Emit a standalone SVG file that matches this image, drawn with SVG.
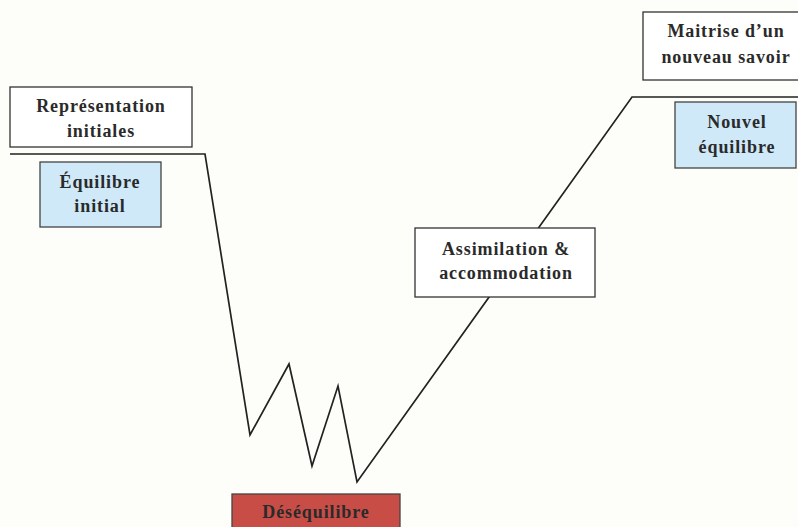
<svg xmlns="http://www.w3.org/2000/svg" width="798" height="527" viewBox="0 0 798 527">
<style>
.t{font-family:"Liberation Serif","Times New Roman",serif;font-weight:bold;font-size:18px;letter-spacing:0.9px;fill:#2a2a2a;text-anchor:middle}
.w{fill:#ffffff;stroke:#333;stroke-width:1.3}
.b{fill:#cfe9f9;stroke:#444;stroke-width:1.3}
.r{fill:#c94d47;stroke:#444;stroke-width:1.3}
.ln{fill:none;stroke:#222;stroke-width:1.7;stroke-linejoin:miter}
</style>
<rect width="798" height="527" fill="#fdfdf9"/>
<g id="connectors">
<polyline class="ln" points="10,154 205,154 250,435 289,364 312,466 338,386 357,482 632,97 798,97"/>
</g>
<g id="representation">
<rect class="w" x="10" y="87" width="182" height="60"/>
<text class="t" x="101" y="112">Représentation</text>
<text class="t" x="101" y="137">initiales</text>
</g>
<g id="equilibre-initial">
<rect class="b" x="40" y="162" width="121" height="65"/>
<text class="t" x="100" y="188">Équilibre</text>
<text class="t" x="100" y="212">initial</text>
</g>
<g id="maitrise">
<rect class="w" x="643" y="12" width="160" height="68"/>
<text class="t" x="726" y="37">Maitrise d’un</text>
<text class="t" x="726" y="63">nouveau savoir</text>
</g>
<g id="nouvel-equilibre">
<rect class="b" x="675" y="102" width="121" height="66"/>
<text class="t" x="737" y="128">Nouvel</text>
<text class="t" x="737" y="153">équilibre</text>
</g>
<g id="assimilation">
<rect class="w" x="415" y="228" width="180" height="69"/>
<text class="t" x="506" y="255">Assimilation &amp;</text>
<text class="t" x="506" y="279">accommodation</text>
</g>
<g id="desequilibre">
<rect class="r" x="232" y="494" width="168" height="40"/>
<text class="t" x="316" y="518">Déséquilibre</text>
</g>
</svg>
